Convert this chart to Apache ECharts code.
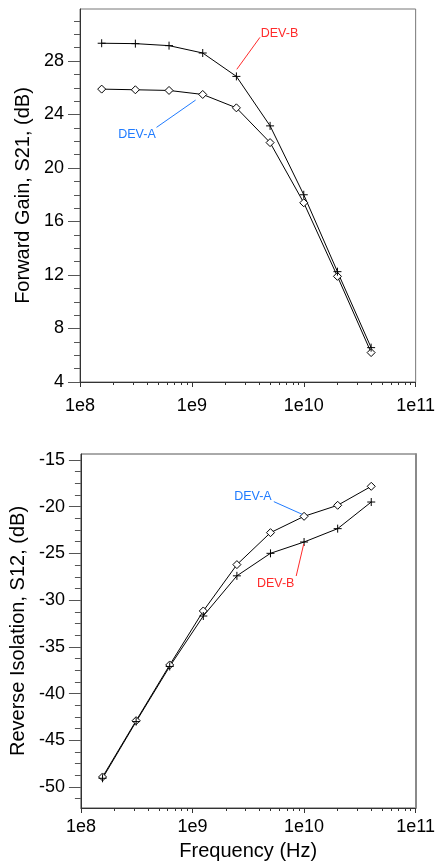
<!DOCTYPE html>
<html>
<head>
<meta charset="utf-8">
<script src="https://cdn.jsdelivr.net/npm/echarts@6/dist/echarts.min.js"></script>
<style>
html,body{margin:0;padding:0;background:#fff;}
#chart{width:438px;height:863px;}
</style>
</head>
<body>
<div id="chart"></div>
<script>
// Frequencies (Hz)
const freq = [1.5625e8, 3.125e8, 6.25e8, 1.25e9, 2.5e9, 5e9, 1e10, 2e10, 4e10];
// Forward gain S21 (dB)
const gainA = [25.9, 25.85, 25.8, 25.5, 24.5, 21.9, 17.4, 11.9, 6.2];
const gainB = [29.33, 29.3, 29.15, 28.6, 26.85, 23.15, 18.0, 12.25, 6.57];
// Reverse isolation S12 (dB)
const isoA = [-48.93, -42.9, -36.94, -31.16, -26.2, -22.78, -21.03, -19.85, -17.82];
const isoB = [-49.07, -43.0, -37.1, -31.7, -27.4, -24.99, -23.78, -22.35, -19.5];
// Tick values
const freqMajor = [1e8, 1e9, 1e10, 1e11];
const freqMinor = [2e8,3e8,4e8,5e8,6e8,7e8,8e8,9e8,2e9,3e9,4e9,5e9,6e9,7e9,8e9,9e9,2e10,3e10,4e10,5e10,6e10,7e10,8e10,9e10];
const gainMajor = [4, 8, 12, 16, 20, 24, 28];
const gainMinor = [5,6,7,9,10,11,13,14,15,17,18,19,21,22,23,25,26,27,29,30,31];
const isoMajor = [-50, -45, -40, -35, -30, -25, -20, -15];
const isoMinor = [-51.25,-48.75,-47.5,-46.25,-43.75,-42.5,-41.25,-38.75,-37.5,-36.25,-33.75,-32.5,-31.25,-28.75,-27.5,-26.25,-23.75,-22.5,-21.25,-18.75,-17.5,-16.25];

const FONT = '"Liberation Sans", Arial, sans-serif';
const RED = '#ff2b2b', BLUE = '#1f7bff';
const axisCol = '#333';

const chart = echarts.init(document.getElementById('chart'));

function freqLabel(v){ return '1e' + Math.round(Math.log10(v)); }
function pairs(ys){ return freq.map((f,i)=>[f, ys[i]]); }

const plusSym = 'path://M4,0L4,8M0,4L8,4';

function majorX(grid, margin, extra){
  return Object.assign({
    type:'log', gridIndex:grid, position:'bottom', min:1e8, max:1e11, logBase:10,
    axisLine:{show:true, lineStyle:{color:axisCol, width:1}},
    axisTick:{show:true, inside:false, length:5, customValues:freqMajor, lineStyle:{color:axisCol}},
    axisLabel:{show:true, customValues:freqMajor, formatter:freqLabel, margin:margin, fontSize:18, fontFamily:FONT, color:'#000'},
    splitLine:{show:false}, minorTick:{show:false}
  }, extra||{});
}
function minorX(grid){
  return {
    type:'log', gridIndex:grid, position:'bottom', min:1e8, max:1e11, logBase:10,
    axisLine:{show:false},
    axisTick:{show:true, inside:false, length:3, customValues:freqMinor, lineStyle:{color:axisCol}},
    axisLabel:{show:false}, splitLine:{show:false}
  };
}
function majorY(grid, min, max, ticks, extra){
  return Object.assign({
    type:'value', gridIndex:grid, position:'left', min:min, max:max,
    axisLine:{show:true, lineStyle:{color:axisCol, width:1}},
    axisTick:{show:true, inside:false, length:12, customValues:ticks, lineStyle:{color:'#555'}},
    axisLabel:{show:true, customValues:ticks, margin:16, fontSize:18, fontFamily:FONT, color:'#000'},
    splitLine:{show:false}
  }, extra||{});
}
function minorY(grid, min, max, ticks){
  return {
    type:'value', gridIndex:grid, position:'left', min:min, max:max,
    axisLine:{show:false},
    axisTick:{show:true, inside:false, length:6, customValues:ticks, lineStyle:{color:'#555'}},
    axisLabel:{show:false}, splitLine:{show:false}
  };
}

function lineSeries(xi, yi, data, symbol, size, extra){
  return Object.assign({
    type:'line', xAxisIndex:xi, yAxisIndex:yi, data:data,
    symbol:symbol, symbolSize:size, showSymbol:true,
    lineStyle:{color:'#000', width:1},
    itemStyle:{color: symbol==='diamond' ? '#fff' : '#000', borderColor:'#000', borderWidth:1},
    emphasis:{disabled:true}, silent:true, z:3
  }, extra||{});
}

function annot(color, text, lineFrom, lineTo, textAt, pos){
  return {
    markLine:{
      silent:true, symbol:['none','none'], animation:false,
      lineStyle:{color:color, width:1, type:'solid'},
      label:{show:false},
      data:[[{coord:lineFrom},{coord:lineTo}]]
    },
    markPoint:{
      silent:true, animation:false,
      data:[{coord:textAt, symbol:'circle', symbolSize:1, itemStyle:{color:'rgba(0,0,0,0)'},
        label:{show:true, formatter:text, position:pos, distance:0, color:color, fontSize:12.5, fontFamily:FONT}}]
    }
  };
}

const option = {
  animation:false,
  backgroundColor:'#fff',
  grid:[
    {left:80, top:9, width:339, height:373, show:true, borderColor:'#777', borderWidth:1, containLabel:false},
    {left:77, top:454, width:345, height:354, show:true, borderColor:'#555', borderWidth:1, containLabel:false}
  ],
  xAxis:[
    majorX(0, 15),
    minorX(0),
    majorX(1, 10, {name:'Frequency (Hz)', nameLocation:'middle', nameGap:33,
      nameTextStyle:{fontSize:20, fontFamily:FONT, color:'#000'}}),
    minorX(1)
  ],
  yAxis:[
    majorY(0, 4, 31.89, gainMajor, {name:'Forward Gain, S21, (dB)', nameLocation:'middle', nameGap:47,
      nameTextStyle:{fontSize:20, fontFamily:FONT, color:'#000'}}),
    minorY(0, 4, 31.89, gainMinor),
    majorY(1, -52.25, -14.36, isoMajor, {name:'Reverse Isolation, S12, (dB)', nameLocation:'middle', nameGap:48,
      nameTextStyle:{fontSize:20, fontFamily:FONT, color:'#000'}}),
    minorY(1, -52.25, -14.36, isoMinor),
    {type:'value', gridIndex:1, position:'right', min:-52.25, max:-14.36,
      axisLine:{show:true, lineStyle:{color:'#8a8a8a', width:2}}, axisTick:{show:false}, axisLabel:{show:false}, splitLine:{show:false}}
  ],
  series:[
    lineSeries(0, 0, pairs(gainA), 'diamond', 8,
      annot(BLUE, 'DEV-A', [1.08e9, 25.08], [4.83e8, 23.04], [4.8e8, 22.47], 'left')),
    lineSeries(0, 0, pairs(gainB), plusSym, 8,
      annot(RED, 'DEV-B', [2.52e9, 27.38], [4.06e9, 29.77], [4.08e9, 30.02], 'right')),
    lineSeries(2, 2, pairs(isoA), 'diamond', 8,
      annot(BLUE, 'DEV-A', [5.36e9, -19.46], [9.6e9, -20.81], [5.18e9, -18.93], 'left')),
    lineSeries(2, 2, pairs(isoB), plusSym, 8,
      annot(RED, 'DEV-B', [9.93e9, -23.99], [8.5e9, -27.42], [8.28e9, -28.27], 'left'))
  ]
};
chart.setOption(option);
</script>
</body>
</html>
